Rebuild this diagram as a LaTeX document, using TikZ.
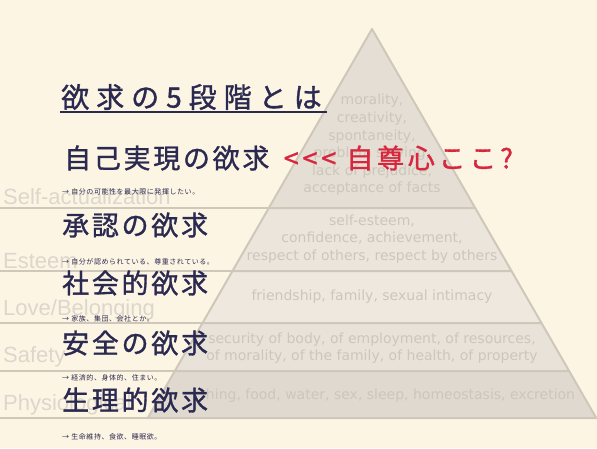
\documentclass[tikz,border=0pt]{standalone}
\usepackage{fontspec}
\setmainfont{DejaVu Sans}
\newfontfamily\titlejp[LetterSpace=25,FakeBold=1.2]{Noto Sans CJK JP}
\newfontfamily\headjp[LetterSpace=10,FakeBold=1.2]{Noto Sans CJK JP}
\newfontfamily\remarkjp[LetterSpace=14,FakeBold=1.2]{Noto Sans CJK JP}
\newfontfamily\notejp[LetterSpace=8]{Noto Sans CJK JP}
\newfontfamily\levelfont{Liberation Sans}
\usetikzlibrary{positioning}

\definecolor{cream}{HTML}{FDF5E4}
\definecolor{navy}{HTML}{2A2950}
\definecolor{alert}{HTML}{D7263D}
\definecolor{edge}{HTML}{CFC7BA}
\definecolor{faint}{HTML}{CDC6BB}
\definecolor{ghost}{HTML}{DCD6CC}

\begin{document}
\begin{tikzpicture}[x=1pt,y=-1pt,
    heading/.style={anchor=west,inner sep=0pt,text=navy,font=\headjp\fontsize{27}{27}\selectfont},
    note/.style={anchor=west,inner sep=0pt,text=navy,font=\notejp\fontsize{7}{7}\selectfont},
    level/.style={anchor=west,inner sep=0pt,text=ghost,font=\levelfont\fontsize{22}{22}\selectfont},
    need/.style={align=center,inner sep=0pt,text=faint,font=\fontsize{14}{17.6}\selectfont}]
  \useasboundingbox (0,0) rectangle (597,448);
  \fill[cream] (0,0) rectangle (597,448);

  % level names behind everything
  \node[level] (selfname) at (3,197) {Self-actualization};
  \node[level] (esteemname) at (3,261) {Esteem};
  \node[level] (lovename) at (3,310) {Love/Belonging};
  \node[level] (safetyname) at (3,357) {Safety};
  \node[level] (physname) at (3,405) {Physiological};

  % pyramid bands
  \coordinate (apex) at (372,29);
  \foreach \ya/\yb/\shade in {29/208/E4DED4, 208/271/EBE5DC, 271/323/EEE8DF, 323/371/E8E2D9, 371/418/DFD9CF}{
    \pgfmathsetmacro\wa{0.5765*(\ya-29)}
    \pgfmathsetmacro\wb{0.5765*(\yb-29)}
    \definecolor{band}{HTML}{\shade}
    \draw[edge,line width=1.5pt] (0,\yb) -- (372-\wb,\yb);
    \draw[edge,line width=2pt,line join=round,fill=band]
      (372-\wa,\ya) -- (372+\wa,\ya) -- (372+\wb,\yb) -- (372-\wb,\yb) -- cycle;
  }

  % contents of the bands
  \begin{scope}
    \clip (207,0) rectangle (597,448);
    \node[need] (selfneed) at (372,145) {morality,\\creativity,\\spontaneity,\\problem solving,\\lack of prejudice,\\acceptance of facts};
    \node[need] (esteemneed) at (372,239) {self-esteem,\\confidence, achievement,\\respect of others, respect by others};
    \node[need] (loveneed) at (372,297) {friendship, family, sexual intimacy};
    \node[need] (safetyneed) at (372,348) {security of body, of employment, of resources,\\of morality, of the family, of health, of property};
    \node[need] (physneed) at (372,396) {breathing, food, water, sex, sleep, homeostasis, excretion};
  \end{scope}

  % Japanese headings
  \node[heading,font=\titlejp\fontsize{28}{28}\selectfont] (title) at (61,97) {欲求の5段階とは};
  \draw[navy,line width=1.6pt] (60,112) -- (327,112);

  \node[heading] (selfjp) at (64,158) {自己実現の欲求};
  \node[heading,font=\remarkjp\fontsize{27}{27}\selectfont,text=alert,right=14pt of selfjp] (remark) {<<<\hspace{10pt}自尊心ここ?};
  \node[note] (selfnote) at (62,192) {→ 自分の可能性を最大限に発揮したい。};

  \node[heading] (esteemjp) at (62,225) {承認の欲求};
  \node[note] (esteemnote) at (62,262) {→ 自分が認められている、尊重されている。};

  \node[heading] (lovejp) at (62,283) {社会的欲求};
  \node[note] (lovenote) at (62,319) {→ 家族、集団、会社とか。};

  \node[heading] (safetyjp) at (62,343) {安全の欲求};
  \node[note] (safetynote) at (62,378) {→ 経済的、身体的、住まい。};

  \node[heading] (physjp) at (62,400) {生理的欲求};
  \node[note] (physnote) at (62,437) {→ 生命維持、食欲、睡眠欲。};
\end{tikzpicture}
\end{document}
